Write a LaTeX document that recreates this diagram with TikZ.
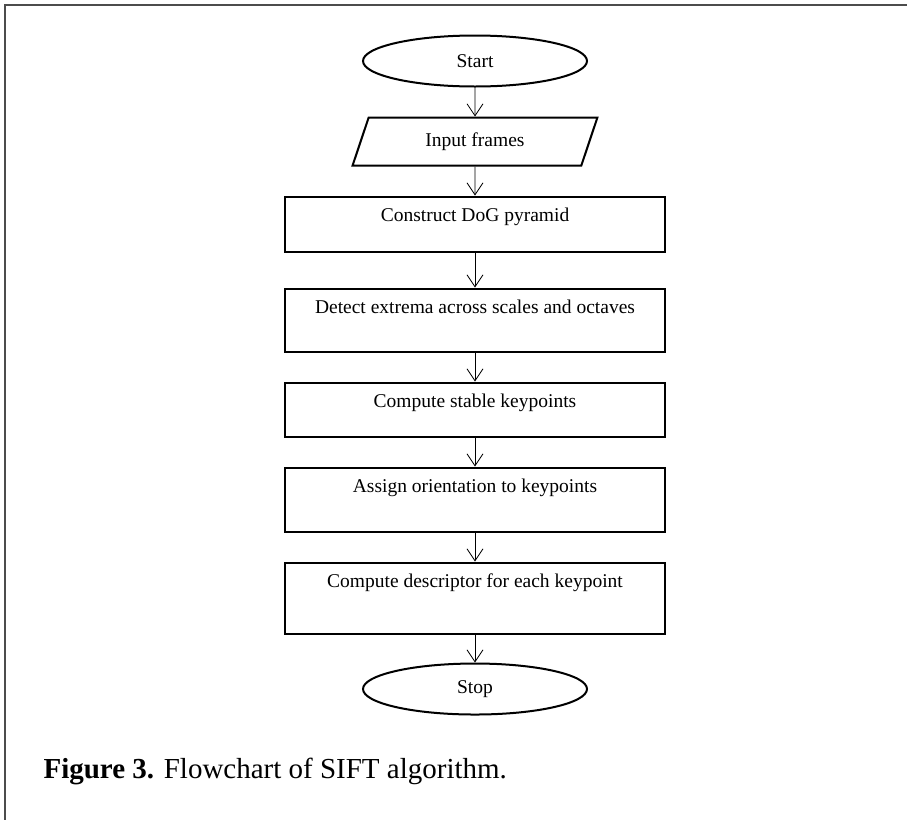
\documentclass[tikz,border=0pt]{standalone}
\usepackage{fontspec}
\setmainfont{Liberation Serif}
\usetikzlibrary{shapes.geometric,arrows.meta,positioning}

\begin{document}
\begin{tikzpicture}[x=1pt, y=1pt, >={Straight Barb[length=12pt,width=16pt]},
  every node/.style={font=\fontsize{19.5}{23}\selectfont},
  term/.style={draw, line width=2pt, ellipse, minimum width=224pt, minimum height=51pt, inner sep=0pt},
  proc/.style={draw, line width=2pt, rectangle, minimum width=380pt, inner ysep=0pt, text height=25pt, text depth=#1},
  flow/.style={->, line width=0.8pt}]
\useasboundingbox (0,0) rectangle (907,-820);
\draw[line width=1.8pt, black!70] (907,-5) -- (5,-5) -- (5,-820);
\node[term] (start) at (475,-61) {Start};
\node[draw, line width=2pt, trapezium, trapezium left angle=72, trapezium right angle=108, trapezium stretches=true, minimum width=245pt, minimum height=48pt, below=29pt of start] (input) {Input frames};
\node[proc=30pt, below=29pt of input] (dog) {Construct DoG pyramid};
\node[proc=38pt, below=35pt of dog] (extrema) {Detect extrema across scales and octaves};
\node[proc=29pt, below=29pt of extrema] (stable) {Compute stable keypoints};
\node[proc=39pt, below=29pt of stable] (orient) {Assign orientation to keypoints};
\node[proc=46pt, below=29pt of orient] (descr) {Compute descriptor for each keypoint};
\node[term, below=28pt of descr] (stop) {Stop};
\draw[flow] (start) -- (input);
\draw[flow] (input) -- (dog);
\draw[flow] (dog) -- (extrema);
\draw[flow] (extrema) -- (stable);
\draw[flow] (stable) -- (orient);
\draw[flow] (orient) -- (descr);
\draw[flow] (descr) -- (stop);
\node[anchor=base west, font=\fontsize{29}{34}\selectfont] (caption) at (40,-778) {\textbf{Figure 3.} Flowchart of SIFT algorithm.};
\end{tikzpicture}
\end{document}
